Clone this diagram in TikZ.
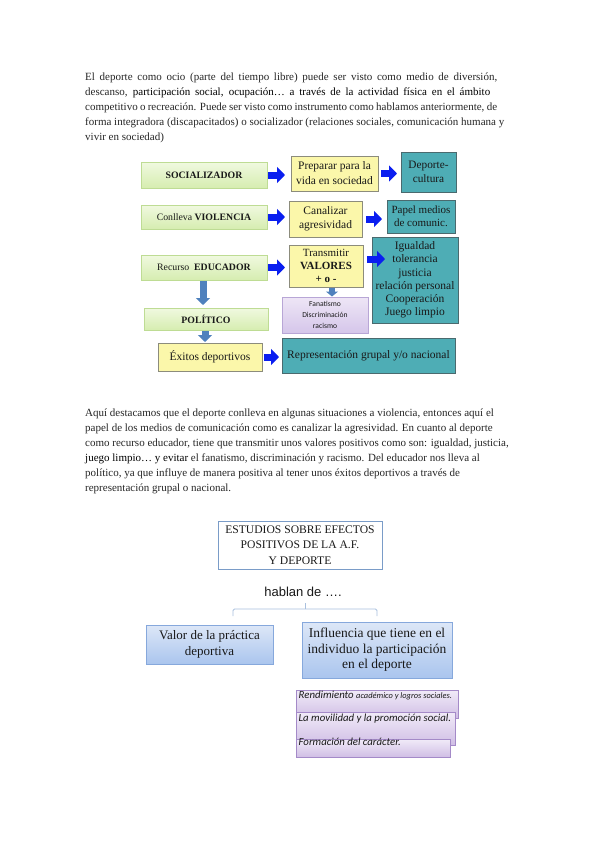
\documentclass[tikz,border=0pt]{standalone}
\usepackage{fontspec}
\setmainfont{Liberation Serif}
\newfontfamily\carlito{Carlito}
\newfontfamily\arialf{Liberation Sans}
\usetikzlibrary{arrows.meta}
\definecolor{bodytxt}{HTML}{262626}
\definecolor{greenT}{HTML}{F0F9E0}
\definecolor{greenB}{HTML}{D6EDB0}
\definecolor{greenL}{HTML}{BEDC94}
\definecolor{yellowF}{HTML}{FBF7AA}
\definecolor{yellowL}{HTML}{8C8C7C}
\definecolor{tealF}{HTML}{4EADB5}
\definecolor{tealL}{HTML}{4A6A6E}
\definecolor{lavT}{HTML}{EEE6F6}
\definecolor{lavB}{HTML}{D5C6EA}
\definecolor{lavL}{HTML}{B8A6D6}
\definecolor{arrowblue}{HTML}{0A1EF0}
\definecolor{downblue}{HTML}{4F81BD}
\definecolor{lbT}{HTML}{DDE7F7}
\definecolor{lbB}{HTML}{AAC5EE}
\definecolor{lbL}{HTML}{86A8DC}
\definecolor{estL}{HTML}{7A9CC8}
\definecolor{brk}{HTML}{A9C0DE}
\definecolor{purT}{HTML}{F1EBF8}
\definecolor{purB}{HTML}{D0BEE5}
\definecolor{purL}{HTML}{A48AC8}
\begin{document}
\begin{tikzpicture}[x=1pt,y=-1pt,
  bodyline/.style={anchor=base west, inner sep=0pt, font=\fontsize{11}{13}\selectfont, text=bodytxt},
  box/.style={inner sep=0pt, outer sep=0pt, align=center, text=black!90, line width=0.6pt},
  gbox/.style={box, draw=greenL, top color=greenT, bottom color=greenB, font=\fontsize{9.8}{12}\selectfont},
  ybox/.style={box, draw=yellowL, fill=yellowF, font=\fontsize{11.5}{15}\selectfont},
  tbox/.style={box, draw=tealL, fill=tealF, font=\fontsize{11.5}{13.2}\selectfont},
  lavbox/.style={box, draw=lavL, top color=lavT, bottom color=lavB, font=\carlito\fontsize{7.6}{11}\selectfont},
  lbbox/.style={box, draw=lbL, top color=lbT, bottom color=lbB, line width=0.8pt},
  purbox/.style={inner sep=0pt, outer sep=0pt, anchor=north west, draw=purL, top color=purT, bottom color=purB, line width=0.6pt},
  purtxt/.style={anchor=base west, inner sep=0pt, text=black!90, font=\carlito\itshape\fontsize{10.8}{12}\selectfont},
  barrow/.style={draw=arrowblue, line width=7pt, -{Triangle[length=8pt,width=16pt]}},
  darrow/.style={draw=downblue, line width=7pt, -{Triangle[length=7pt,width=14pt]}},
  bracket/.style={draw=brk, line width=0.9pt, rounded corners=1.5pt}
]
\useasboundingbox[fill=white] (0,0) rectangle (599,848);

% ---------- first paragraph ----------
\node[bodyline] (p1) at (85,80.5) {\makebox[412pt][s]{El deporte como ocio (parte del tiempo libre) puede ser visto como medio de diversión,}};
\node[bodyline] (p2) at (85,95.5) {\makebox[405pt][s]{descanso, \textcolor{black}{participación social, ocupación… a través de la actividad física en el ámbito}}};
\node[bodyline] (p3) at (85,110.5) {\makebox[412pt][s]{competitivo o recreación. Puede ser visto como instrumento como hablamos anteriormente, de}};
\node[bodyline] (p4) at (85,125.5) {forma integradora (discapacitados) o socializador (relaciones sociales, comunicación humana y};
\node[bodyline] (p5) at (85,140.5) {vivir en sociedad)};

% ---------- first diagram ----------
\node[gbox, minimum width=126pt, minimum height=26pt] (soc) at (204,175) {\textbf{SOCIALIZADOR}};
\node[gbox, minimum width=126pt, minimum height=24pt] (conl) at (204,217) {Conlleva \textbf{VIOLENCIA}};
\node[gbox, minimum width=126pt, minimum height=25pt] (rec) at (204,267.5) {Recurso\ \ \textbf{EDUCADOR}};
\node[gbox, minimum width=124pt, minimum height=22pt] (pol) at (206,319) {\textbf{POLÍTICO}};

\node[ybox, minimum width=87pt, minimum height=35pt] (prep) at (334.5,173.5) {Preparar para la\\vida en sociedad};
\node[ybox, minimum width=73pt, minimum height=36pt, font=\fontsize{11.5}{13.5}\selectfont] (can) at (325.5,219) {Canalizar\\agresividad};
\node[ybox, minimum width=74pt, minimum height=42pt, font=\fontsize{11}{13}\selectfont] (trans) at (326,266) {Transmitir\\\textbf{VALORES}\\\textbf{+ o -}};
\node[ybox, minimum width=104pt, minimum height=28pt] (exi) at (210,357) {Éxitos deportivos};

\node[tbox, minimum width=55pt, minimum height=40pt, font=\fontsize{11.3}{14.5}\selectfont] (dep) at (428.5,172) {Deporte-\\cultura};
\node[tbox, minimum width=68pt, minimum height=33pt, font=\fontsize{11}{13}\selectfont] (pap) at (421,216.5) {Papel medios\\de comunic.};
\node[tbox, minimum width=86pt, minimum height=86pt] (igu) at (415,280) {Igualdad\\tolerancia\\justicia\\relación personal\\Cooperación\\Juego limpio};
\node[tbox, minimum width=173pt, minimum height=35pt] (rep) at (368.5,355.5) {Representación grupal y/o nacional};

\node[lavbox, minimum width=86pt, minimum height=36pt] (fan) at (325,315) {Fanatismo\\Discriminación\\racismo};

% arrows
\draw[barrow, shorten <=1pt, shorten >=6pt] (soc.east) -- (soc.east -| prep.west);
\draw[barrow, shorten <=1pt, shorten >=4pt] (conl.east) -- (conl.east -| can.west);
\draw[barrow, shorten <=1pt, shorten >=4pt] (rec.east) -- (rec.east -| trans.west);
\draw[barrow, shorten <=3pt, shorten >=4pt] (prep.east) -- (prep.east -| dep.west);
\draw[barrow, shorten <=4pt, shorten >=5pt] (can.east) -- (can.east -| pap.west);
\draw[barrow, shorten <=2pt, shorten >=3pt] (exi.east) -- (exi.east -| rep.west);
\coordinate (tv) at ([yshift=7pt]trans.east);
\draw[barrow, shorten <=4pt, shorten >=-13pt] (tv) -- (tv -| igu.west);
\draw[darrow, shorten <=1pt, shorten >=3pt] ([xshift=-1pt]rec.south) -- ([xshift=-1pt]rec.south |- pol.north);
\draw[darrow, shorten <=1pt, shorten >=1pt] ([xshift=-1pt]pol.south) -- ([xshift=-1pt]pol.south |- exi.north);
\draw[darrow, -{Triangle[length=5pt,width=12pt]}, line width=6pt, shorten <=0.5pt, shorten >=0.5pt] ([xshift=6pt]trans.south) -- ([xshift=6pt]trans.south |- fan.north);

% ---------- second paragraph ----------
\node[bodyline] (q1) at (85,416) {Aquí destacamos que el deporte conlleva en algunas situaciones a violencia, entonces aquí el};
\node[bodyline] (q2) at (85,431) {papel de los medios de comunicación como es canalizar la agresividad. En cuanto al deporte};
\node[bodyline] (q3) at (85,446) {como recurso educador, tiene que transmitir unos valores positivos como son: igualdad, justicia,};
\node[bodyline] (q4) at (85,461) {\textcolor{black}{juego limpio… y evitar} el fanatismo, discriminación y racismo. Del educador nos lleva al};
\node[bodyline] (q5) at (85,476) {político, ya que influye de manera positiva al tener unos éxitos deportivos a través de};
\node[bodyline] (q6) at (85,491) {representación grupal o nacional.};

% ---------- second diagram ----------
\node[box, draw=estL, fill=white, line width=0.9pt, minimum width=164pt, minimum height=48pt,
      font=\fontsize{11.6}{15.5}\selectfont] (est) at (300,545) {ESTUDIOS SOBRE EFECTOS\\POSITIVOS DE LA A.F.\\Y DEPORTE};
\node[inner sep=0pt, font=\arialf\fontsize{13}{15}\selectfont, text=black!90] (hab) at (303,592) {hablan de ….};

\coordinate (bc) at (305,603);
\coordinate (bm) at (305,609);
\coordinate (bl) at (233,616);
\coordinate (br) at (377,616);
\draw[bracket] (bl) -- (bl |- bm) -- (br |- bm) -- (br);
\draw[bracket] (bm) -- (bc);

\node[lbbox, minimum width=127pt, minimum height=39pt, font=\fontsize{13}{15.5}\selectfont] (val) at (209.5,644.5) {Valor de la práctica\\deportiva};
\node[lbbox, minimum width=150pt, minimum height=56pt, font=\fontsize{13.5}{15.5}\selectfont] (inf) at (377,650) {Influencia que tiene en el\\individuo la participación\\en el deporte};

\node[purbox, minimum width=162pt, minimum height=28pt] (r1) at (296,690) {};
\node[purbox, minimum width=159pt, minimum height=33pt] (r2) at (296,712) {};
\node[purbox, minimum width=154pt, minimum height=18pt] (r3) at (296,739) {};
\node[purtxt] (t1) at (298.5,698.5) {Rendimiento {\fontsize{8.4}{9}\selectfont académico y logros sociales.}};
\node[purtxt] (t2) at (298.5,721.5) {La movilidad y la promoción social.};
\node[purtxt] (t3) at (298.5,745.5) {Formación del carácter.};
\end{tikzpicture}
\end{document}
